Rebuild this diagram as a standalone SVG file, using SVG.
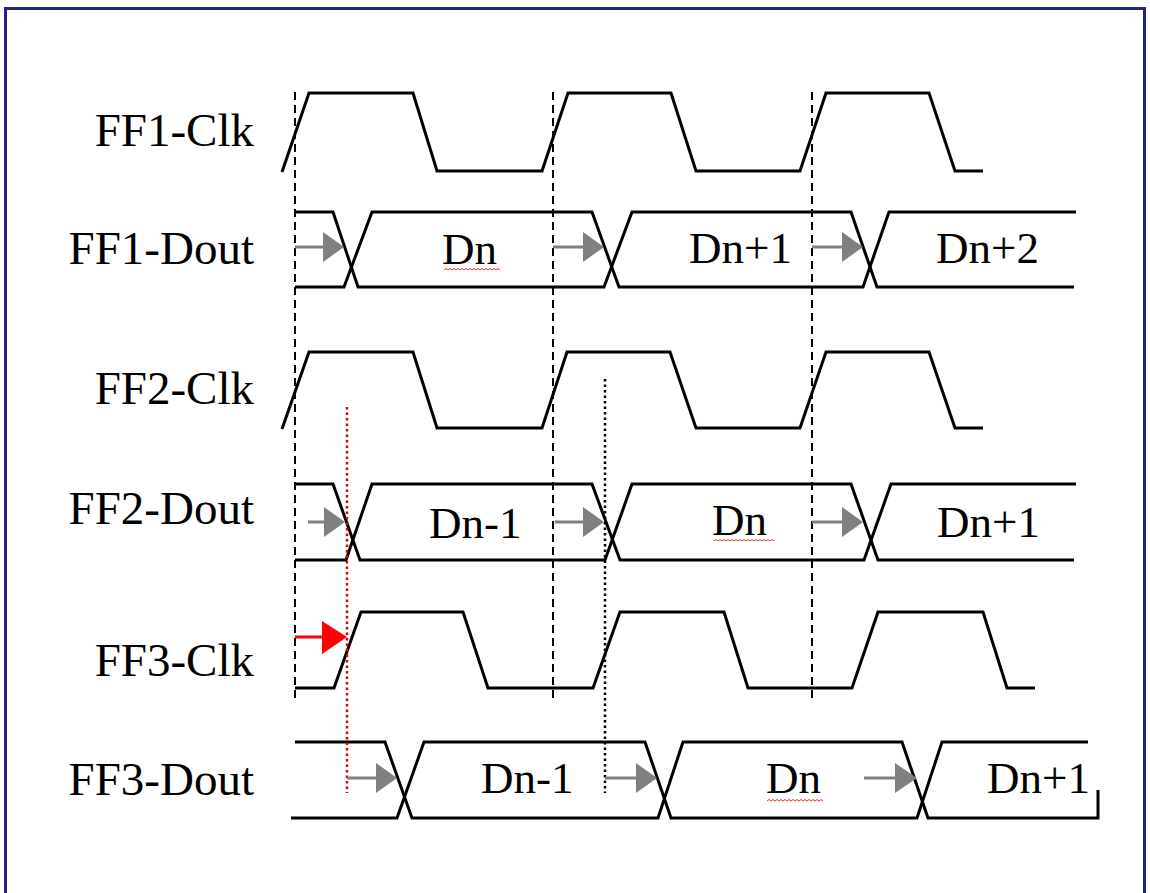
<svg xmlns="http://www.w3.org/2000/svg" width="1150" height="893" viewBox="0 0 1150 893">
<style>
.lbl{font-family:"Liberation Serif","Times New Roman",serif;font-size:47px;fill:#000;text-anchor:end}
.dat{font-family:"Liberation Serif","Times New Roman",serif;font-size:45px;fill:#000}
.wave{fill:none;stroke:#000;stroke-width:3;stroke-linejoin:miter}
.dash{fill:none;stroke:#000;stroke-width:2;stroke-dasharray:8 5}
.dotk{fill:none;stroke:#000;stroke-width:2.5;stroke-dasharray:2.5 3}
.dotr{fill:none;stroke:#e00000;stroke-width:2.5;stroke-dasharray:2.5 3}
.garr{stroke:#808080;stroke-width:3}
.gtri{fill:#808080}
.squig{fill:none;stroke:#e03030;stroke-width:1}
</style>
<rect x="5.5" y="8.5" width="1139" height="900" fill="#fff" stroke="#22228a" stroke-width="3"/>

<g id="ff1-clk">
<text class="lbl" x="254" y="146">FF1-Clk</text>
<path class="wave" d="M282,172 L309,93 H413 L437,171 H542 L568,93 H671 L696,171 H800 L826,93 H929 L955,171 H983"/>
</g>

<g id="ff1-dout">
<text class="lbl" x="254" y="264">FF1-Dout</text>
<path class="wave" d="M295,212 H333 L358,287 H604 L632,212 H851 L877,287 H1074"/>
<path class="wave" d="M295,287 H344 L372,212 H592 L619,287 H863 L889,212 H1076"/>
<text class="dat" x="442" y="264">Dn</text>
<path class="squig" d="M444,270 l2,-1.5 l2,1.5 l2,-1.5 l2,1.5 l2,-1.5 l2,1.5 l2,-1.5 l2,1.5 l2,-1.5 l2,1.5 l2,-1.5 l2,1.5 l2,-1.5 l2,1.5 l2,-1.5 l2,1.5 l2,-1.5 l2,1.5 l2,-1.5 l2,1.5 l2,-1.5 l2,1.5 l2,-1.5 l2,1.5 l2,-1.5 l2,1.5 l2,-1.5 l2,1.5"/>
<text class="dat" x="689" y="263">Dn+1</text>
<text class="dat" x="936" y="263">Dn+2</text>
</g>

<g id="ff2-clk">
<text class="lbl" x="254" y="404">FF2-Clk</text>
<path class="wave" d="M282,429 L309,352 H413 L437,428 H542 L567,352 H670 L696,428 H800 L826,352 H929 L955,428 H983"/>
</g>

<g id="ff2-dout">
<text class="lbl" x="254" y="524">FF2-Dout</text>
<path class="wave" d="M295,484 H333 L360,560 H605 L632,484 H851 L878,560 H1074"/>
<path class="wave" d="M295,560 H346 L372,484 H592 L620,560 H864 L891,484 H1076"/>
<text class="dat" x="429" y="538">Dn-1</text>
<text class="dat" x="712" y="535">Dn</text>
<path class="squig" d="M714,541 l2,-1.5 l2,1.5 l2,-1.5 l2,1.5 l2,-1.5 l2,1.5 l2,-1.5 l2,1.5 l2,-1.5 l2,1.5 l2,-1.5 l2,1.5 l2,-1.5 l2,1.5 l2,-1.5 l2,1.5 l2,-1.5 l2,1.5 l2,-1.5 l2,1.5 l2,-1.5 l2,1.5 l2,-1.5 l2,1.5 l2,-1.5 l2,1.5 l2,-1.5 l2,1.5 l2,-1.5 l2,1.5"/>
<text class="dat" x="937" y="537">Dn+1</text>
</g>

<g id="ff3-clk">
<text class="lbl" x="254" y="676">FF3-Clk</text>
<path class="wave" d="M295,688 H334 L361,612 H463 L488,688 H593 L620,612 H724 L748,688 H852 L878,612 H983 L1007,688 H1035"/>
</g>

<g id="ff3-dout">
<text class="lbl" x="254" y="795">FF3-Dout</text>
<path class="wave" d="M295,742 H385 L412,818 H658 L683,742 H902 L928,818 H1098 V790"/>
<path class="wave" d="M291,818 H397 L424,742 H645 L671,818 H917 L942,742 H1088"/>
<text class="dat" x="481" y="793">Dn-1</text>
<text class="dat" x="766" y="793">Dn</text>
<path class="squig" d="M767,801 l2,-1.5 l2,1.5 l2,-1.5 l2,1.5 l2,-1.5 l2,1.5 l2,-1.5 l2,1.5 l2,-1.5 l2,1.5 l2,-1.5 l2,1.5 l2,-1.5 l2,1.5 l2,-1.5 l2,1.5 l2,-1.5 l2,1.5 l2,-1.5 l2,1.5 l2,-1.5 l2,1.5 l2,-1.5 l2,1.5 l2,-1.5 l2,1.5 l2,-1.5 l2,1.5"/>
<text class="dat" x="987" y="793">Dn+1</text>
</g>

<g id="connectors">
<line class="dash" x1="295" y1="92" x2="295" y2="700"/>
<line class="dash" x1="553" y1="92" x2="553" y2="700"/>
<line class="dash" x1="812" y1="92" x2="812" y2="700"/>
<line class="dotr" x1="347" y1="407" x2="347" y2="793"/>
<line class="dotk" x1="605" y1="379" x2="605" y2="793"/>

<line class="garr" x1="295" y1="247" x2="325" y2="247"/><polygon class="gtri" points="323,232 344,247 323,262"/>
<line class="garr" x1="553" y1="247" x2="585" y2="247"/><polygon class="gtri" points="583,232 604,247 583,262"/>
<line class="garr" x1="812" y1="247" x2="844" y2="247"/><polygon class="gtri" points="842,232 863,247 842,262"/>

<line class="garr" x1="308" y1="522" x2="326" y2="522"/><polygon class="gtri" points="324,507 345,522 324,537"/>
<line class="garr" x1="555" y1="522" x2="585" y2="522"/><polygon class="gtri" points="583,507 604,522 583,537"/>
<line class="garr" x1="812" y1="522" x2="844" y2="522"/><polygon class="gtri" points="842,507 863,522 842,537"/>

<line class="garr" x1="347" y1="778" x2="378" y2="778"/><polygon class="gtri" points="376,763 397,778 376,793"/>
<line class="garr" x1="605" y1="778" x2="638" y2="778"/><polygon class="gtri" points="636,763 657,778 636,793"/>
<line class="garr" x1="864" y1="778" x2="897" y2="778"/><polygon class="gtri" points="895,763 917,778 895,793"/>

<line x1="295" y1="637" x2="325" y2="637" stroke="#ff0000" stroke-width="3"/>
<polygon points="322,621 347,637 322,654" fill="#ff0000"/>
</g>
</svg>
